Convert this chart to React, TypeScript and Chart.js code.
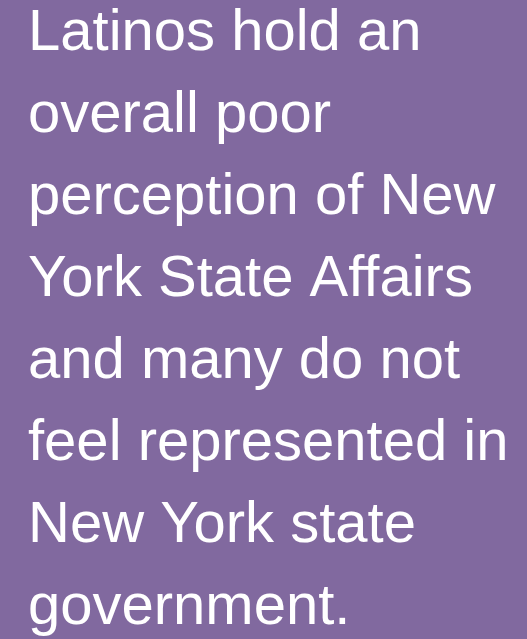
import React, { useEffect, useRef } from "react";
import { Chart, registerables } from "chart.js";

Chart.register(...registerables);

const headlineLines: string[] = [
  "Latinos hold an",
  "overall poor",
  "perception of New",
  "York State Affairs",
  "and many do not",
  "feel represented in",
  "New York state",
  "government.",
];

const categories: string[] = [];
const seriesValues: number[] = [];

const BG = "#81699f";

const bgPlugin = {
  id: "bgFill",
  beforeDraw(chart: any) {
    const { ctx, width, height } = chart;
    ctx.save();
    ctx.fillStyle = BG;
    ctx.fillRect(0, 0, width, height);
    ctx.restore();
  },
};

export default function App() {
  const ref = useRef<HTMLCanvasElement | null>(null);
  useEffect(() => {
    document.body.style.margin = "0";
    document.body.style.background = BG;
    const chart = new Chart(ref.current as HTMLCanvasElement, {
      type: "bar",
      data: {
        labels: categories,
        datasets: [{ data: seriesValues, backgroundColor: "#ffffff" }],
      },
      options: {
        animation: false,
        responsive: false,
        maintainAspectRatio: false,
        layout: { padding: { left: 28, right: 0, top: -7, bottom: 0 } },
        scales: { x: { display: false }, y: { display: false } },
        plugins: {
          legend: { display: false },
          tooltip: { enabled: false },
          title: {
            display: true,
            text: headlineLines,
            align: "start",
            color: "#ffffff",
            font: { family: "'Liberation Sans', Arial, sans-serif", size: 58, weight: "normal", lineHeight: 1.414 },
            padding: { top: 0, bottom: 0 },
          },
        },
      },
      plugins: [bgPlugin],
    });
    return () => chart.destroy();
  }, []);
  return (
    <div style={{ position: "fixed", left: 0, top: 0, width: 527, height: 639, background: BG }}>
      <canvas ref={ref} width={527} height={639} style={{ display: "block", width: 527, height: 639 }} />
    </div>
  );
}
